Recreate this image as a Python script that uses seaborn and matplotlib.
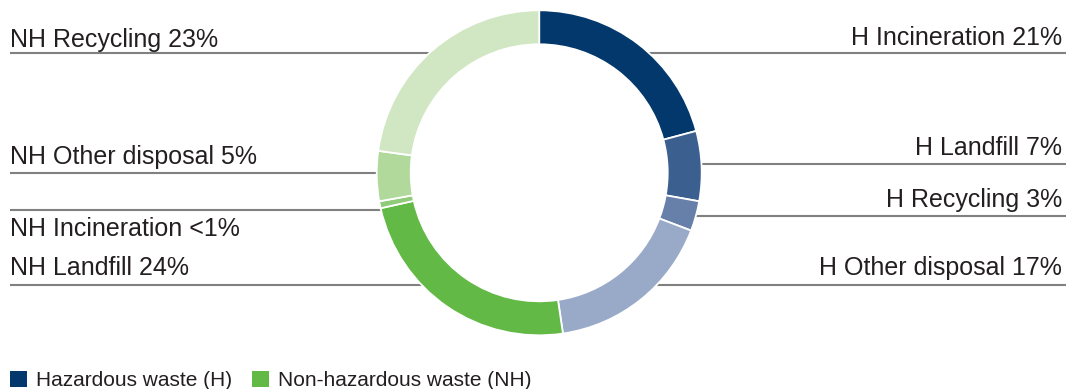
import matplotlib
matplotlib.use("Agg")
import numpy as np
import matplotlib.pyplot as plt
from matplotlib.patches import Patch
import seaborn as sns

# Waste breakdown, clockwise from 12 o'clock
categories = ["H Incineration", "H Landfill", "H Recycling", "H Other disposal",
              "NH Landfill", "NH Incineration", "NH Other disposal", "NH Recycling"]
shares = [21, 7, 3, 17, 24, 0.7, 5, 23]
share_labels = ["21%", "7%", "3%", "17%", "24%", "<1%", "5%", "23%"]
groups = ["Hazardous waste (H)", "Non-hazardous waste (NH)"]

blues = ["#02386b", "#3b5f8e", "#6680aa", "#99aac8"]
greens = ["#63b946", "#8fcb78", "#b1d99c", "#d1e7c3"]
slice_colors = sns.color_palette(blues + greens)

sns.set_theme(style="white")
plt.rcParams["font.family"] = ["Liberation Sans", "DejaVu Sans"]

W, H = 1079, 389
fig = plt.figure(figsize=(W / 100, H / 100), dpi=100)
ax = fig.add_axes([0, 0, 1, 1])

cx, cy, R = 539.2, H - 172.8, 162.5
ax.pie(shares, colors=slice_colors, startangle=90, counterclock=False,
       center=(cx, cy), radius=R, normalize=True,
       wedgeprops=dict(width=34, edgecolor="white", linewidth=1.3))

ax.set_xlim(0, W)
ax.set_ylim(0, H)
ax.set_aspect("auto")
ax.axis("off")

# label layout: side, text baseline (px from top), leader line (px from top)
layout = {
    "H Incineration": ("right", 45.0, 53.3),
    "H Landfill": ("right", 155.0, 164.3),
    "H Recycling": ("right", 206.7, 216.0),
    "H Other disposal": ("right", 275.0, 285.0),
    "NH Landfill": ("left", 275.0, 285.0),
    "NH Incineration": ("left", 236.0, 209.5),
    "NH Other disposal": ("left", 164.0, 172.7),
    "NH Recycling": ("left", 46.7, 53.3),
}
text_color = "#231f20"
left_x, right_x = 10.0, 1066.0

for name, pct in zip(categories, share_labels):
    side, base_py, line_py = layout[name]
    yl = H - line_py
    dx = np.sqrt(max(R ** 2 - (yl - cy) ** 2, 0.0))
    if side == "left":
        ax.plot([left_x, cx - dx], [yl, yl], color="#808080", lw=1.5,
                solid_capstyle="butt", zorder=0)
        ax.text(left_x + 0.5, H - base_py, f"{name} {pct}", ha="left",
                va="baseline", fontsize=18, color=text_color)
    else:
        ax.plot([cx + dx, right_x], [yl, yl], color="#808080", lw=1.5,
                solid_capstyle="butt", zorder=0)
        ax.text(right_x - 4.0, H - base_py, f"{name} {pct}", ha="right",
                va="baseline", fontsize=18, color=text_color)

handles = [Patch(facecolor=blues[0], edgecolor="none"),
           Patch(facecolor=greens[0], edgecolor="none")]
ax.legend(handles, groups, loc="lower left", bbox_to_anchor=(10, -1.0),
          bbox_transform=ax.transData, ncol=2, frameon=False,
          prop=dict(family="Liberation Sans", size=15), labelcolor=text_color,
          handlelength=0.8, handleheight=0.78, handletextpad=0.45,
          columnspacing=0.95, borderpad=0, borderaxespad=0)

fig.savefig("out.png", dpi=100)
